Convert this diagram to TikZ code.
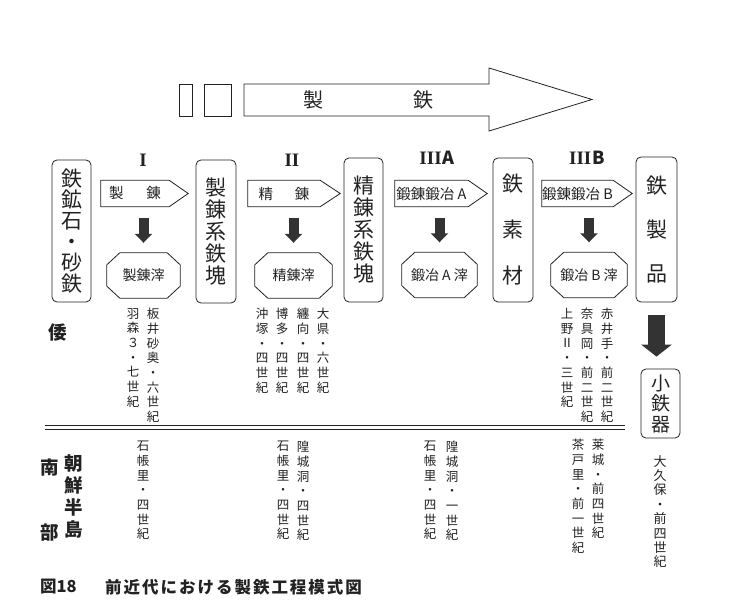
\documentclass[tikz,border=0pt]{standalone}
\usepackage{fontspec}
\setmainfont{Noto Sans CJK JP}
\newfontfamily\capfont[LetterSpace=12]{Noto Sans CJK JP}
\newfontfamily\romfont{Liberation Serif}
\usetikzlibrary{arrows.meta}
\definecolor{ink}{HTML}{222222}
\definecolor{arrcol}{HTML}{333333}
\newcommand\mypent[2]{%
  \draw[draw=ink, line width=0.8pt] (#1.north west) -- (#1.north east) -- ([xshift=#2]#1.east) -- (#1.south east) -- (#1.south west) -- cycle;}
\newcommand\myocta[1]{%
  \draw[draw=ink, line width=0.8pt] ([xshift=13pt]#1.north west) -- ([xshift=-13pt]#1.north east) -- ([yshift=-12pt]#1.north east) -- ([yshift=12pt]#1.south east) -- ([xshift=-13pt]#1.south east) -- ([xshift=13pt]#1.south west) -- ([yshift=12pt]#1.south west) -- ([yshift=-12pt]#1.north west) -- cycle;}
\newcommand\rnum[1]{{\romfont\bfseries #1}}
\begin{document}
\begin{tikzpicture}[x=1pt,y=-1pt,
  every node/.style={text=ink},
  rbox/.style={draw=ink, line width=0.8pt, rounded corners=5pt, inner sep=0pt, align=center, font=\fontsize{21}{21}\selectfont},
  bodybox/.style={inner sep=0pt, minimum height=26pt, font=\fontsize{14.5}{15}\selectfont},
  octo/.style={inner sep=0pt, minimum width=74pt, minimum height=45pt, font=\fontsize{14}{15}\selectfont},
  vcol/.style={inner sep=0pt, anchor=north, align=center, font=\fontsize{12.5}{14.7}\selectfont},
  roman/.style={inner sep=0pt, font=\fontsize{19}{19}\selectfont},
  sdown/.style={draw=arrcol, line width=10pt, -{Triangle[width=17pt,length=9pt]}, shorten <=11.5pt, shorten >=10pt},
  bigdown/.style={draw=arrcol, line width=17pt, -{Triangle[width=30pt,length=12pt]}, shorten <=13pt, shorten >=12pt},
  outline/.style={draw=ink, line width=0.8pt},
  boldlbl/.style={inner sep=0pt, font=\fontsize{18.5}{18.5}\selectfont\bfseries}
]
\fill[white] (0,0) rectangle (748,615);
\useasboundingbox (0,0) rectangle (748,615);

% top process arrow
\draw[outline] (179,84) rectangle (192,116);
\draw[outline] (204,84) rectangle (231,116);
\draw[outline] (244,84) -- (489,84) -- (489,68) -- (592,99.5) -- (489,131) -- (489,116) -- (244,116) -- cycle;
\node[font=\fontsize{20}{20}\selectfont] (tsei) at (313,100) {製};
\node[font=\fontsize{20}{20}\selectfont] (ttetsu) at (423,100) {鉄};

% stage labels
\node[roman] (r1) at (143,160) {\rnum{I}};
\node[roman] (r2) at (292,160) {\rnum{II}};
\node[roman] (r3) at (437,158) {\rnum{III}\hspace{1pt}{\fontsize{18}{18}\selectfont\bfseries A}};
\node[roman] (r4) at (587,158) {\rnum{III}\hspace{1pt}{\fontsize{18}{18}\selectfont\bfseries B}};

% material boxes
\node[rbox, minimum width=39pt, minimum height=142pt] (ore) at (71.5,231) {鉄\\鉱\\石\\・\\砂\\鉄};
\node[rbox, minimum width=40pt, minimum height=143pt, font=\fontsize{21}{22}\selectfont] (seirenkai) at (216,231.5) {製\\錬\\系\\鉄\\塊};
\node[rbox, minimum width=39pt, minimum height=144pt, font=\fontsize{21}{22}\selectfont] (seirenkai2) at (363.5,230) {精\\錬\\系\\鉄\\塊};
\node[rbox, minimum width=40pt, minimum height=144pt, font=\fontsize{21}{46}\selectfont] (sozai) at (513,230) {鉄\\素\\材};
\node[rbox, minimum width=41pt, minimum height=145pt, font=\fontsize{21}{44}\selectfont] (seihin) at (656.5,229.5) {鉄\\製\\品};
\node[rbox, minimum width=39pt, minimum height=69pt, font=\fontsize{19}{20.5}\selectfont] (kotekki) at (660.5,403.5) {小\\鉄\\器};

% process pentagons
\node[bodybox, minimum width=68pt] (p1) at (135,193.5) {製\hspace{23pt}錬};
\mypent{p1}{19pt}
\node[bodybox, minimum width=72pt] (p2) at (284,193.5) {精\hspace{22pt}錬};
\mypent{p2}{20pt}
\node[bodybox, minimum width=73pt] (p3) at (431.5,193.5) {鍛錬鍛冶 A};
\mypent{p3}{19pt}
\node[bodybox, minimum width=71pt] (p4) at (577.5,193.5) {鍛錬鍛冶 B};
\mypent{p4}{19pt}

% slag octagons
\node[octo, minimum width=73pt] (o1) at (143.5,275.5) {製錬滓};
\myocta{o1}
\node[octo, minimum width=77pt] (o2) at (293.5,275.5) {精錬滓};
\myocta{o2}
\node[octo, minimum width=75pt] (o3) at (439.5,275) {鍛冶 A 滓};
\myocta{o3}
\node[octo, minimum width=76pt] (o4) at (589,275) {鍛冶 B 滓};
\myocta{o4}

% down arrows
\draw[sdown] (p1.south -| o1.north) -- (o1.north);
\draw[sdown] (p2.south -| o2.north) -- (o2.north);
\draw[sdown] (p3.south -| o3.north) -- (o3.north);
\draw[sdown] (p4.south -| o4.north) -- (o4.north);
\draw[bigdown] (seihin.south) -- (seihin.south |- kotekki.north);

% region labels
\node[boldlbl] (wa) at (58,333) {倭};
\node[boldlbl, anchor=north, align=center, font=\fontsize{18.5}{22.3}\selectfont\bfseries] (chosen) at (74,454) {朝\\鮮\\半\\島};
\node[boldlbl] (nan) at (50,468) {南};
\node[boldlbl] (bu) at (50,533) {部};

% separator
\draw[ink, line width=1.8pt] (45,425.5) -- (625,425.5);
\draw[ink, line width=1pt] (45,429.3) -- (625,429.3);

% Wa sites
\node[vcol] (w1a) at (153,308) {板\\井\\砂\\奥\\・\\六\\世\\紀};
\node[vcol] (w1b) at (133,308) {羽\\森\\３\\・\\七\\世\\紀};
\node[vcol] (w2a) at (323,308) {大\\県\\・\\六\\世\\紀};
\node[vcol] (w2b) at (303,308) {纏\\向\\・\\四\\世\\紀};
\node[vcol] (w2c) at (282,308) {博\\多\\・\\四\\世\\紀};
\node[vcol] (w2d) at (262,308) {沖\\塚\\・\\四\\世\\紀};
\node[vcol] (w4a) at (607,308) {赤\\井\\手\\・\\前\\二\\世\\紀};
\node[vcol] (w4b) at (587,308) {奈\\具\\岡\\・\\前\\二\\世\\紀};
\node[vcol] (w4c) at (567,308) {上\\野\\Ⅱ\\・\\三\\世\\紀};

% Korean sites
\node[vcol] (k1a) at (143,441) {石\\帳\\里\\・\\四\\世\\紀};
\node[vcol] (k2a) at (303,441) {隍\\城\\洞\\・\\四\\世\\紀};
\node[vcol] (k2b) at (283,441) {石\\帳\\里\\・\\四\\世\\紀};
\node[vcol] (k3a) at (452,441) {隍\\城\\洞\\・\\一\\世\\紀};
\node[vcol] (k3b) at (430,441) {石\\帳\\里\\・\\四\\世\\紀};
\node[vcol] (k4a) at (598,439) {莱\\城\\・\\前\\四\\世\\紀};
\node[vcol] (k4b) at (578,439) {茶\\戸\\里\\・\\前\\一\\世\\紀};
\node[vcol, font=\fontsize{13}{14.4}\selectfont] (k5) at (660,455) {大\\久\\保\\・\\前\\四\\世\\紀};

% caption
\node[anchor=west, inner sep=0pt, font=\fontsize{16.5}{17}\selectfont\bfseries] (cap1) at (40,587) {図18};
\node[anchor=west, inner sep=0pt, font=\capfont\fontsize{16.5}{17}\selectfont\bfseries] (cap2) at (105,587) {前近代における製鉄工程模式図};
\end{tikzpicture}
\end{document}
